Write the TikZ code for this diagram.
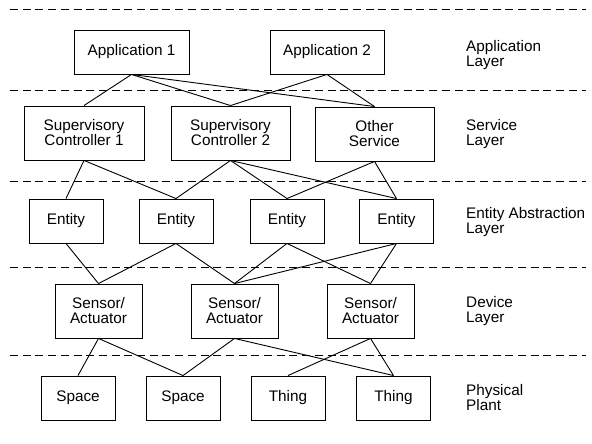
\documentclass[tikz,border=0pt]{standalone}
\usepackage{fontspec}
\setmainfont{Liberation Sans}
\begin{document}
\begin{tikzpicture}[x=1pt,y=-1pt,
  every node/.style={font=\fontsize{15.3}{15}\selectfont, inner sep=0pt},
  box/.style={draw, line width=0.9pt, align=center, minimum height=#1},
  box/.default=44pt,
  layerlabel/.style={anchor=west, align=left},
  sep/.style={dashed, dash pattern=on 8pt off 4.7pt, line width=1pt},
  link/.style={line width=0.9pt}]
\useasboundingbox (0,0) rectangle (592,444);

% layer separators
\foreach \yy/\nm in {10/d0, 91/d1, 181.5/d2, 267/d3, 355.5/d4}{
  \coordinate (\nm l) at (10,\yy);
  \coordinate (\nm r) at (586,\yy);
  \draw[sep] (\nm l) -- (\nm r);
}

% application layer
\node[box, minimum width=115pt] (app1) at (131.5,52) {Application 1};
\node[box, minimum width=114pt] (app2) at (327,52) {Application 2};

% service layer
\node[box=54pt, minimum width=120pt] (sc1) at (84,133) {Supervisory\\Controller 1};
\node[box=54pt, minimum width=119pt] (sc2) at (230.5,133) {Supervisory\\Controller 2};
\node[box=54pt, minimum width=119pt] (os) at (374.5,134) {Other\\Service};

% entity abstraction layer
\node[box, minimum width=74pt] (e1) at (66,221) {Entity};
\node[box, minimum width=74pt] (e2) at (176,221) {Entity};
\node[box, minimum width=74pt] (e3) at (287,221) {Entity};
\node[box, minimum width=74pt] (e4) at (396.5,221) {Entity};

% device layer
\node[box=54pt, minimum width=87pt] (s1) at (98.5,311) {Sensor/\\Actuator};
\node[box=54pt, minimum width=87pt] (s2) at (234.5,311) {Sensor/\\Actuator};
\node[box=54pt, minimum width=87pt] (s3) at (370.5,311) {Sensor/\\Actuator};

% physical plant
\node[box, minimum width=74pt] (p1) at (78,398) {Space};
\node[box, minimum width=74pt] (p2) at (183,398) {Space};
\node[box, minimum width=74pt] (p3) at (288,398) {Thing};
\node[box, minimum width=74pt] (p4) at (393.5,398) {Thing};

% layer names
\node[layerlabel] (l1) at (466,55) {Application\\Layer};
\node[layerlabel] (l2) at (466,134) {Service\\Layer};
\node[layerlabel] (l3) at (466,222) {Entity Abstraction\\Layer};
\node[layerlabel] (l4) at (466,311) {Device\\Layer};
\node[layerlabel] (l5) at (466,398) {Physical\\Plant};

% connections between layers
\foreach \a/\b in {app1/sc1, app1/sc2, app1/os, app2/sc2, app2/os,
                   sc1/e1, sc1/e2, sc2/e2, sc2/e3, sc2/e4, os/e3, os/e4,
                   e1/s1, e2/s1, e2/s2, e3/s2, e3/s3, e4/s2, e4/s3,
                   s1/p1, s1/p2, s2/p2, s2/p4, s3/p3, s3/p4}
  \draw[link] (\a.south) -- (\b.north);
\end{tikzpicture}
\end{document}
